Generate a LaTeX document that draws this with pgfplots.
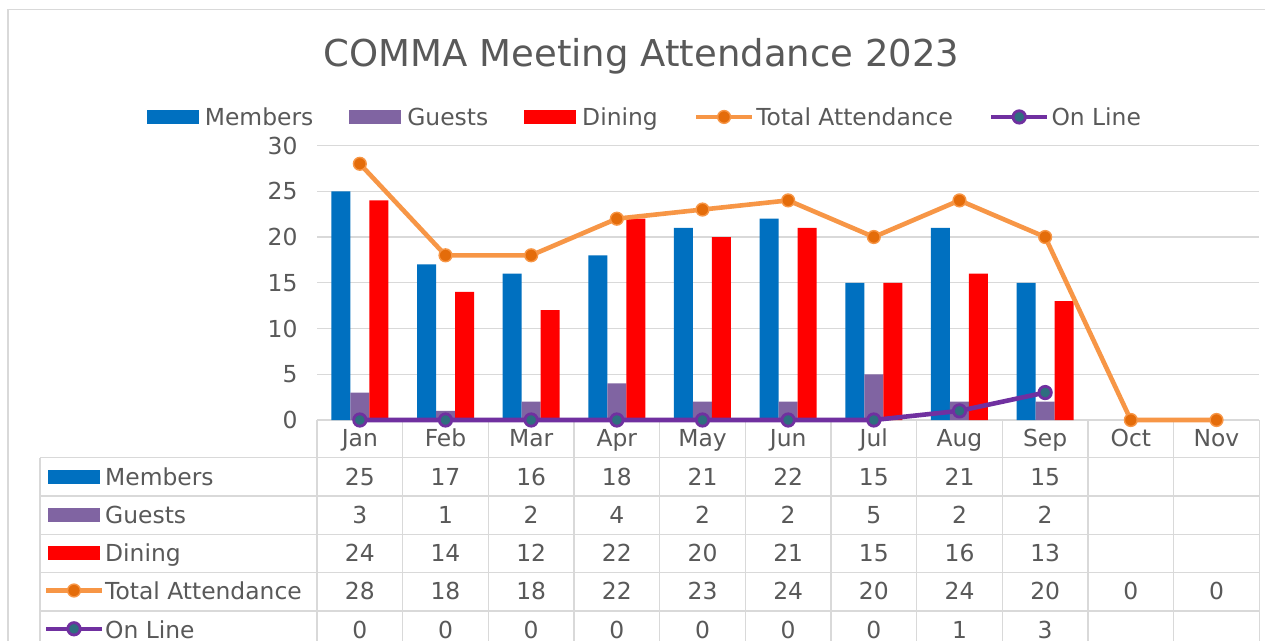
\documentclass[border=0pt]{standalone}
\usepackage{fontspec}
\setmainfont{DejaVu Sans}
\usepackage{pgfplots}
\pgfplotsset{compat=1.18}
\definecolor{txt}{HTML}{595959}
\definecolor{grd}{HTML}{D9D9D9}
\definecolor{mem}{HTML}{0070C0}
\definecolor{gst}{HTML}{8064A2}
\definecolor{din}{HTML}{FF0000}
\definecolor{tot}{HTML}{F79646}
\definecolor{totm}{HTML}{E46C0A}
\definecolor{onl}{HTML}{7030A0}
\definecolor{onlm}{HTML}{2E6E7F}
\newcommand\fs{\fontsize{23.4bp}{28bp}\selectfont}
\begin{document}
\begin{tikzpicture}[x=1bp,y=1bp]
\useasboundingbox (0,0) rectangle (1265,-641);
\fill[white] (0,0) rectangle (1265,-641);
\draw[grd, line width=1.2bp] (8,-1000) -- (8,-9.5) -- (1300,-9.5);
\node[anchor=base, text=txt, font=\fontsize{37bp}{44bp}\selectfont, inner sep=0] at (641.5,-67) {COMMA Meeting Attendance 2023};
% data table grid (drawn first, under the plots)
\begin{scope}[grd, line width=1.2bp]
\draw (317,-420) -- (1259.3,-420);
\foreach \yy in {457.7,496,534.3,572.6,610.9,649.2} \draw (40,-\yy) -- (1259.3,-\yy);
\foreach \k in {0,...,11} \draw ({317+85.667*\k},-420) -- ({317+85.667*\k},-700);
\draw (40,-457.7) -- (40,-700);
\end{scope}
\begin{axis}[
  at={(317bp,-420bp)}, anchor=south west, scale only axis,
  width=942.3bp, height=274.5bp,
  xmin=-0.5, xmax=10.5, ymin=0, ymax=30,
  ytick={0,5,...,30}, xtick={0,...,10},
  xticklabels={Jan,Feb,Mar,Apr,May,Jun,Jul,Aug,Sep,Oct,Nov},
  axis line style={draw=none}, major tick length=0pt, tick style={draw=none},
  ymajorgrids, grid style={grd, line width=1.2bp},
  ticklabel style={font=\fs, text=txt},
  /pgf/number format/assume math mode=true,
  yticklabel style={xshift=-16bp},
  xticklabel style={anchor=base, yshift=-26.7bp},
  clip=false,
  legend columns=5,
  legend cell align=left,
  legend style={at={(0.348,1.104)}, anchor=center, draw=none, fill=none,
    font=\fs, text=txt,
    nodes={inner sep=2bp, text height=17bp, text depth=0bp},
    /tikz/every even column/.append style={column sep=34bp}},
]
\addplot[ybar, bar width=19bp, bar shift=-19bp, fill=mem, draw=none,
  legend image code/.code={\fill[mem] (0bp,-7bp) rectangle (52bp,7bp); \path (56bp,0bp);}]
  coordinates {(0,25)(1,17)(2,16)(3,18)(4,21)(5,22)(6,15)(7,21)(8,15)};
\addlegendentry{Members}
\addplot[ybar, bar width=19bp, bar shift=0bp, fill=gst, draw=none,
  legend image code/.code={\fill[gst] (0bp,-7bp) rectangle (52bp,7bp); \path (56bp,0bp);}]
  coordinates {(0,3)(1,1)(2,2)(3,4)(4,2)(5,2)(6,5)(7,2)(8,2)};
\addlegendentry{Guests}
\addplot[ybar, bar width=19bp, bar shift=19bp, fill=din, draw=none,
  legend image code/.code={\fill[din] (0bp,-7bp) rectangle (52bp,7bp); \path (56bp,0bp);}]
  coordinates {(0,24)(1,14)(2,12)(3,22)(4,20)(5,21)(6,15)(7,16)(8,13)};
\addlegendentry{Dining}
\addplot[tot, line width=4.6bp, mark=*, mark size=6.4bp,
  mark options={fill=totm, draw=tot, line width=1.4bp},
  legend image code/.code={\draw[tot, line width=4.6bp] (0bp,0bp) -- (56bp,0bp); \draw[tot, fill=totm, line width=1.4bp] (28bp,0bp) circle (6.4bp);}]
  coordinates {(0,28)(1,18)(2,18)(3,22)(4,23)(5,24)(6,20)(7,24)(8,20)(9,0)(10,0)};
\addlegendentry{Total Attendance}
\addplot[onl, line width=4.6bp, mark=*, mark size=6.2bp,
  mark options={fill=onlm, draw=onl, line width=2.8bp},
  legend image code/.code={\draw[onl, line width=4.6bp] (0bp,0bp) -- (56bp,0bp); \draw[onl, fill=onlm, line width=2.8bp] (28bp,0bp) circle (6.2bp);}]
  coordinates {(0,0)(1,0)(2,0)(3,0)(4,0)(5,0)(6,0)(7,1)(8,3)};
\addlegendentry{On Line}
\end{axis}
\begin{scope}[every node/.style={font=\fs, text=txt, inner sep=0}]
\foreach \v [count=\i from 0] in {25,17,16,18,21,22,15,21,15}
  \node[anchor=base] at ({317+85.667*(\i+0.5)},-485) {\v};
\foreach \v [count=\i from 0] in {3,1,2,4,2,2,5,2,2}
  \node[anchor=base] at ({317+85.667*(\i+0.5)},-523.3) {\v};
\foreach \v [count=\i from 0] in {24,14,12,22,20,21,15,16,13}
  \node[anchor=base] at ({317+85.667*(\i+0.5)},-561.6) {\v};
\foreach \v [count=\i from 0] in {28,18,18,22,23,24,20,24,20,0,0}
  \node[anchor=base] at ({317+85.667*(\i+0.5)},-599.9) {\v};
\foreach \v [count=\i from 0] in {0,0,0,0,0,0,0,1,3}
  \node[anchor=base] at ({317+85.667*(\i+0.5)},-638.2) {\v};
\node[anchor=base west] at (105,-485) {Members};
\node[anchor=base west] at (105,-523.3) {Guests};
\node[anchor=base west] at (105,-561.6) {Dining};
\node[anchor=base west] at (105,-599.9) {Total Attendance};
\node[anchor=base west] at (105,-638.2) {On Line};
\end{scope}
\fill[mem] (48,-469.5) rectangle (100,-483.5);
\fill[gst] (48,-507.5) rectangle (100,-521.5);
\fill[din] (48,-546) rectangle (100,-560);
\draw[tot, line width=4.6bp] (46,-590.5) -- (102,-590.5);
\draw[tot, fill=totm, line width=1.4bp] (74,-590.5) circle (6.4);
\draw[onl, line width=4.6bp] (46,-628.8) -- (102,-628.8);
\draw[onl, fill=onlm, line width=2.8bp] (74,-628.8) circle (6.2);
\end{tikzpicture}
\end{document}
